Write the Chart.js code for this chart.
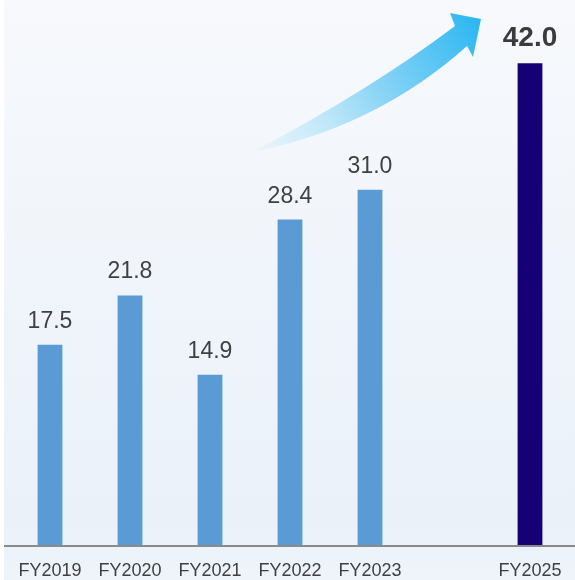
<!DOCTYPE html>
<html>
<head>
<meta charset="utf-8">
<script src="https://cdn.jsdelivr.net/npm/chart.js@4.4.1/dist/chart.umd.min.js"></script>
<style>
  body { margin: 0; background: #ffffff; }
  #wrap { width: 575px; height: 580px; }
</style>
</head>
<body>
<div id="wrap"><canvas id="sales-chart" width="575" height="580"></canvas></div>
<script>
// fiscal years, FY2024 slot left empty
const years = ['FY2019', 'FY2020', 'FY2021', 'FY2022', 'FY2023', '', 'FY2025'];
const actuals = [17.5, 21.8, 14.9, 28.4, 31.0, null, null];
const target = [null, null, null, null, null, null, 42.0];

const backdrop = {
    id: 'backdrop',
    beforeDraw(chart) {
        const ctx = chart.ctx;
        const grad = ctx.createLinearGradient(0, 0, 0, chart.height);
        grad.addColorStop(0, '#f7f9fc');
        grad.addColorStop(0.9, '#eaf1f9');
        grad.addColorStop(1, '#eef4fa');
        ctx.save();
        ctx.fillStyle = '#ffffff';
        ctx.fillRect(0, 0, chart.width, chart.height);
        ctx.fillStyle = grad;
        ctx.fillRect(4, 0, chart.width - 4, chart.height);
        ctx.restore();
    },
    afterDatasetsDraw(chart) {
        const ctx = chart.ctx;
        const y0 = chart.scales.y.getPixelForValue(0);
        ctx.save();
        // baseline
        ctx.strokeStyle = '#8a8a8a';
        ctx.lineWidth = 2;
        ctx.beginPath();
        ctx.moveTo(4, y0);
        ctx.lineTo(chart.width, y0);
        ctx.stroke();

        // growth arrow
        const grad = ctx.createLinearGradient(258, 150, 481, 19);
        grad.addColorStop(0, 'rgba(220,242,252,0.5)');
        grad.addColorStop(0.5, '#8fd6f6');
        grad.addColorStop(1, '#2ab6f2');
        ctx.fillStyle = grad;
        ctx.beginPath();
        ctx.moveTo(256, 150);
        ctx.quadraticCurveTo(370, 90, 455, 26);
        ctx.lineTo(450, 13);
        ctx.lineTo(481, 19);
        ctx.lineTo(473, 57);
        ctx.lineTo(467, 46);
        ctx.quadraticCurveTo(380, 124, 262, 150);
        ctx.closePath();
        ctx.fill();

        // value labels
        ctx.textAlign = 'center';
        ctx.textBaseline = 'alphabetic';
        chart.data.datasets.forEach((ds, i) => {
            const meta = chart.getDatasetMeta(i);
            meta.data.forEach((bar, j) => {
                const v = ds.data[j];
                if (v == null) return;
                if (ds.label === 'target') {
                    ctx.font = 'bold 28px "Liberation Sans", Arial, sans-serif';
                    ctx.fillStyle = '#3b3b3b';
                } else {
                    ctx.font = '23px "Liberation Sans", Arial, sans-serif';
                    ctx.fillStyle = '#404040';
                }
                ctx.fillText(v.toFixed(1), bar.x, bar.y - 17);
            });
        });
        ctx.restore();
    }
};

new Chart(document.getElementById('sales-chart'), {
    type: 'bar',
    data: {
        labels: years,
        datasets: [{
            label: 'actual',
            data: actuals,
            backgroundColor: '#5b9bd5',
            categoryPercentage: 1,
            barPercentage: 0.31,
            skipNull: true
        }, {
            label: 'target',
            data: target,
            backgroundColor: '#160075',
            categoryPercentage: 1,
            barPercentage: 0.31,
            skipNull: true
        }]
    },
    options: {
        responsive: false,
        animation: false,
        layout: { padding: { left: 10, right: 5, top: 0, bottom: 0 } },
        plugins: {
            legend: { display: false },
            tooltip: { enabled: false }
        },
        scales: {
            x: {
                stacked: true,
                grid: { display: false },
                border: { display: false },
                ticks: {
                    padding: 6,
                    color: '#404040',
                    font: { family: '"Liberation Sans", Arial, sans-serif', size: 18 },
                    maxRotation: 0,
                    autoSkip: false
                },
                afterFit(scale) { scale.height = 34; }
            },
            y: {
                display: false,
                min: 0,
                max: 47.5
            }
        }
    },
    plugins: [backdrop]
});
</script>
</body>
</html>
